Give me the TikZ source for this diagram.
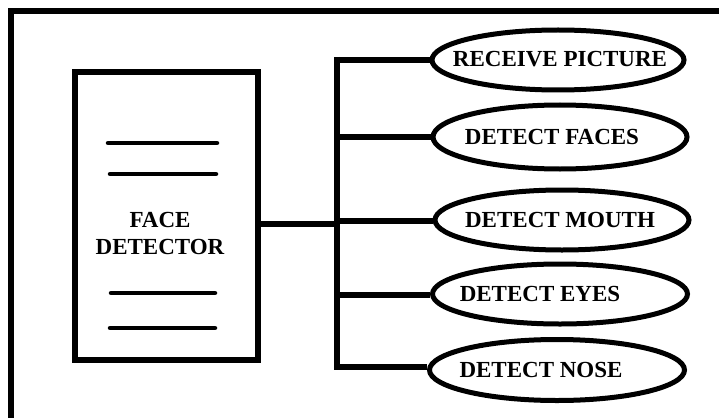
\documentclass[tikz,border=0pt]{standalone}
\usepackage{fontspec}
\setmainfont{Liberation Serif}
\usetikzlibrary{shapes.geometric}
\begin{document}
\begin{tikzpicture}[x=1pt,y=-1pt,
  frame/.style={line width=6pt},
  wire/.style={line width=6pt},
  bar/.style={line width=4.5pt,line cap=round},
  oval/.style={draw,ellipse,line width=5pt,inner sep=0pt},
  lbl/.style={font=\fontsize{23}{27}\selectfont\bfseries,inner sep=0pt,align=center}]
\useasboundingbox (0,0) rectangle (719,417);
\clip (0,0) rectangle (719,417);
% outer frame, running off the right and bottom edges
\draw[frame] (11,425) |- (725,11);
% detector box with its bars
\node[draw,line width=6pt,minimum width=183pt,minimum height=288pt,inner sep=0pt] (box) at (166.5,216) {};
\draw[bar] (108,143) -- (217,143);
\draw[bar] (110,174) -- (216,174);
\draw[bar] (111,293) -- (215,293);
\draw[bar] (110,328) -- (215,328);
\node[lbl] (boxT) at (160,233) {FACE\\DETECTOR};
% task ovals
\node[oval,minimum width=252pt,minimum height=60pt] (e1) at (558,60) {};
\node[oval,minimum width=254pt,minimum height=64pt] (e2) at (560,137) {};
\node[oval,minimum width=254pt,minimum height=60pt] (e3) at (562,220) {};
\node[oval,minimum width=255pt,minimum height=60pt] (e4) at (560,294) {};
\node[oval,minimum width=255pt,minimum height=61pt] (e5) at (557,370) {};
\node[lbl] (t1) at (560,59) {RECEIVE PICTURE};
\node[lbl] (t2) at (552,137) {DETECT FACES};
\node[lbl] (t3) at (560,220) {DETECT MOUTH};
\node[lbl] (t4) at (540,294) {DETECT EYES};
\node[lbl] (t5) at (541,370) {DETECT NOSE};
% trunk and branches
\coordinate (j0) at (337,224);
\coordinate (j1) at (337,60);
\coordinate (j2) at (337,137);
\coordinate (j3) at (337,221);
\coordinate (j4) at (337,295);
\coordinate (j5) at (337,367);
\draw[wire] (box.east |- j0) -- (j0);
\draw[wire] ([yshift=3pt]j1) -- ([yshift=-3pt]j5);
\draw[wire] (j1) -- (j1 -| e1.west);
\draw[wire] (j2) -- (j2 -| e2.west);
\draw[wire] (j3) -- (j3 -| e3.west);
\draw[wire] (j4) -- (j4 -| e4.west);
\draw[wire] (j5) -- (j5 -| e5.west);
\end{tikzpicture}
\end{document}
